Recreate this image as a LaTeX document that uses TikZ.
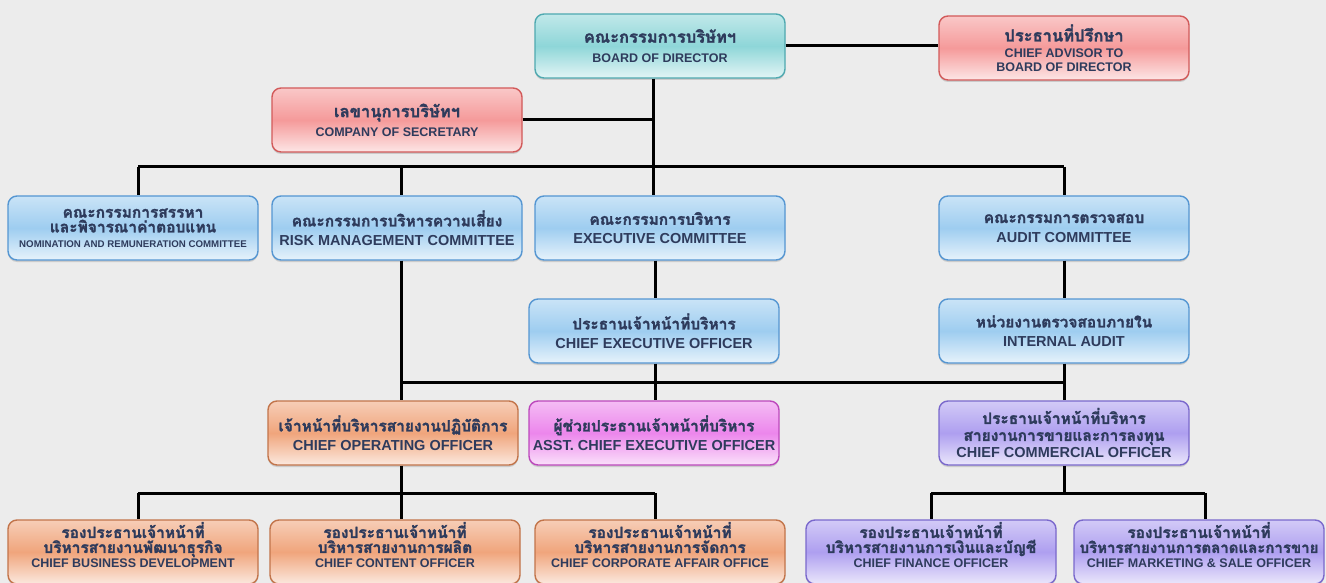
\documentclass[tikz,border=0pt]{standalone}
\usepackage{fontspec}
\usetikzlibrary{shadows}
\setmainfont{Liberation Sans}
\newfontfamily\thaifont[Script=Thai, FakeBold=1.6]{Loma}
\newcommand{\thline}[1]{{\thaifont\fontsize{15.5}{17}\selectfont #1}}
\newcommand{\thbig}[1]{{\thaifont\fontsize{16.5}{18}\selectfont #1}}
\definecolor{bgc}{HTML}{ECECEC}
\definecolor{txc}{HTML}{2E3B5C}
\definecolor{teal1}{HTML}{8ED6D8}
\definecolor{teal2}{HTML}{4FA9B0}
\definecolor{pink1}{HTML}{F59A9A}
\definecolor{pink2}{HTML}{D25A5A}
\definecolor{blue1}{HTML}{9ECDF0}
\definecolor{blue2}{HTML}{5596D2}
\definecolor{orng1}{HTML}{F0A57C}
\definecolor{orng2}{HTML}{C2744A}
\definecolor{mgnt1}{HTML}{EC86EC}
\definecolor{mgnt2}{HTML}{BC48BC}
\definecolor{prpl1}{HTML}{AE9FF0}
\definecolor{prpl2}{HTML}{7A68CC}
\tikzset{
  box/.style={rounded corners=9pt, line width=1.4pt, minimum width=250pt,
    minimum height=64pt, align=center, text=txc, inner sep=2pt,
    drop shadow={opacity=0.3, shadow xshift=0pt, shadow yshift=-2pt},
    font=\bfseries\fontsize{14.5}{16}\selectfont},
  tealbox/.style={box, draw=teal2, top color=teal1!55!white, bottom color=teal1!25!white, middle color=teal1},
  pinkbox/.style={box, draw=pink2, top color=pink1!55!white, bottom color=pink1!25!white, middle color=pink1},
  bluebox/.style={box, draw=blue2, top color=blue1!55!white, bottom color=blue1!25!white, middle color=blue1},
  orngbox/.style={box, draw=orng2, top color=orng1!55!white, bottom color=orng1!25!white, middle color=orng1},
  mgntbox/.style={box, draw=mgnt2, top color=mgnt1!55!white, bottom color=mgnt1!25!white, middle color=mgnt1},
  prplbox/.style={box, draw=prpl2, top color=prpl1!55!white, bottom color=prpl1!25!white, middle color=prpl1},
  small/.style={font=\bfseries\fontsize{12.5}{14}\selectfont},
  link/.style={line width=3pt, black}
}
\begin{document}
\begin{tikzpicture}[x=1pt, y=-1pt]
\fill[bgc] (0,0) rectangle (1326,583);
\useasboundingbox (0,0) rectangle (1326,583);
% top level
\node[tealbox, small] (bod) at (660,46){\thbig{คณะกรรมการบริษัทฯ}\\[6pt]BOARD OF DIRECTOR};
\node[pinkbox, small] (adv) at (1064,48){\thbig{ประธานที่ปรึกษา}\\[2pt]CHIEF ADVISOR TO\\BOARD OF DIRECTOR};
\node[pinkbox, small] (sec) at (397,120){\thbig{เลขานุการบริษัทฯ}\\[5pt]COMPANY OF SECRETARY};
% committees
\node[bluebox, font=\bfseries\fontsize{9.7}{11}\selectfont] (nrc) at (133,228){\thline{คณะกรรมการสรรหา}\\[1pt]\thline{และพิจารณาค่าตอบแทน}\\[4pt]NOMINATION AND REMUNERATION COMMITTEE};
\node[bluebox] (rmc) at (397,228){\thline{คณะกรรมการบริหารความเสี่ยง}\\[3pt]RISK MANAGEMENT COMMITTEE};
\node[bluebox] (exc) at (660,228){\thline{คณะกรรมการบริหาร}\\[3pt]EXECUTIVE COMMITTEE};
\node[bluebox] (adc) at (1064,228){\thline{คณะกรรมการตรวจสอบ}\\[3pt]AUDIT COMMITTEE};
\node[bluebox] (ceo) at (654,331){\thline{ประธานเจ้าหน้าที่บริหาร}\\[3pt]CHIEF EXECUTIVE OFFICER};
\node[bluebox] (ina) at (1064,331){\thline{หน่วยงานตรวจสอบภายใน}\\[3pt]INTERNAL AUDIT};
% officers
\node[orngbox] (coo) at (393,433){\thline{เจ้าหน้าที่บริหารสายงานปฏิบัติการ}\\[3pt]CHIEF OPERATING OFFICER};
\node[mgntbox] (aceo) at (654,433){\thline{ผู้ช่วยประธานเจ้าหน้าที่บริหาร}\\[3pt]ASST. CHIEF EXECUTIVE OFFICER};
\node[prplbox] (cco) at (1064,433){\thline{ประธานเจ้าหน้าที่บริหาร}\\[1pt]\thline{สายงานการขายและการลงทุน}\\[1pt]CHIEF COMMERCIAL OFFICER};
% bottom row
\node[orngbox, small] (cbd) at (133,552){\thline{รองประธานเจ้าหน้าที่}\\[1pt]\thline{บริหารสายงานพัฒนาธุรกิจ}\\[1pt]CHIEF BUSINESS DEVELOPMENT\\\mbox{}};
\node[orngbox, small] (cto) at (395,552){\thline{รองประธานเจ้าหน้าที่}\\[1pt]\thline{บริหารสายงานการผลิต}\\[1pt]CHIEF CONTENT OFFICER\\\mbox{}};
\node[orngbox, small] (cao) at (660,552){\thline{รองประธานเจ้าหน้าที่}\\[1pt]\thline{บริหารสายงานการจัดการ}\\[1pt]CHIEF CORPORATE AFFAIR OFFICE\\\mbox{}};
\node[prplbox, small] (cfo) at (931,552){\thline{รองประธานเจ้าหน้าที่}\\[1pt]\thline{บริหารสายงานการเงินและบัญชี}\\[1pt]CHIEF FINANCE OFFICER\\\mbox{}};
\node[prplbox, small] (cmo) at (1199,552){\thline{รองประธานเจ้าหน้าที่}\\[1pt]{\thaifont\fontsize{15}{17}\selectfont บริหารสายงานการตลาดและการขาย}\\[1pt]CHIEF MARKETING \& SALE OFFICER\\\mbox{}};
% junctions
\coordinate (t0) at (138,167);
\coordinate (t1) at (401,167);
\coordinate (t2) at (653,167);
\coordinate (t3) at (1064,167);
\coordinate (m0) at (401,382);
\coordinate (m1) at (655,382);
\coordinate (m2) at (1064,382);
\coordinate (l0) at (138,493);
\coordinate (l1) at (401,493);
\coordinate (l2) at (655,493);
\coordinate (r0) at (931,493);
\coordinate (r1) at (1064,493);
\coordinate (r2) at (1205,493);
% connectors
\draw[link](bod.east) -- (bod.east -| adv.west);
\draw[link](bod.south -| t2) -- (exc.north -| t2);
\draw[link](sec.east) -- (sec.east -| t2);
\draw[link](t0) -- (t3);
\draw[link](t0) -- (nrc.north -| t0);
\draw[link](t1) -- (rmc.north -| t1);
\draw[link](t3) -- (adc.north);
\draw[link](rmc.south -| m0) -- (coo.north -| m0);
\draw[link](m0) -- (m2);
\draw[link](exc.south -| m1) -- (ceo.north -| m1);
\draw[link](ceo.south -| m1) -- (aceo.north -| m1);
\draw[link](adc.south) -- (ina.north);
\draw[link](ina.south) -- (cco.north);
\draw[link](coo.south -| l1) -- (l1);
\draw[link](l0) -- (l2);
\draw[link](l0) -- (cbd.north -| l0);
\draw[link](l1) -- (cto.north -| l1);
\draw[link](l2) -- (cao.north -| l2);
\draw[link](cco.south) -- (r1);
\draw[link](r0) -- (r2);
\draw[link](r0) -- (cfo.north);
\draw[link](r2) -- (cmo.north -| r2);
\end{tikzpicture}
\end{document}
